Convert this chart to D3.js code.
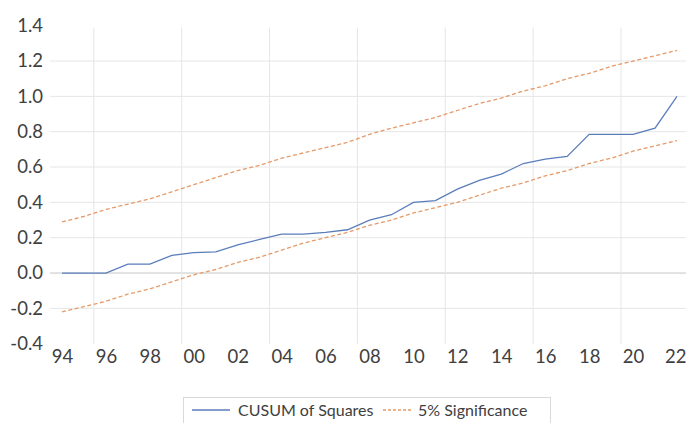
<!DOCTYPE html>
<html>
<head>
<meta charset="utf-8">
<script src="https://cdn.jsdelivr.net/npm/d3@7"></script>
<style>
  body { margin: 0; background: #fff; }
  svg { display: block; font-family: Lato, "Open Sans", sans-serif; }
</style>
</head>
<body>
<svg id="chart" width="686" height="423"></svg>
<script>
// annual observations 1994 - 2022
const years = d3.range(1994, 2023);
const cusum = [0, 0, 0, 0.05, 0.05, 0.10, 0.115, 0.12, 0.16, 0.19,
  0.22, 0.22, 0.23, 0.245, 0.30, 0.33, 0.40, 0.41, 0.475, 0.525,
  0.56, 0.62, 0.645, 0.66, 0.785, 0.785, 0.785, 0.82, 1.0];
const upper = [0.29, 0.32, 0.36, 0.39, 0.42, 0.46, 0.50, 0.54, 0.58, 0.61,
  0.65, 0.68, 0.71, 0.74, 0.785, 0.82, 0.85, 0.88, 0.92, 0.96,
  0.99, 1.03, 1.06, 1.10, 1.13, 1.17, 1.20, 1.23, 1.26];
const lower = [-0.22, -0.19, -0.16, -0.12, -0.09, -0.05, -0.01, 0.02, 0.06, 0.09,
  0.13, 0.17, 0.20, 0.23, 0.27, 0.30, 0.34, 0.37, 0.40, 0.44,
  0.48, 0.51, 0.55, 0.58, 0.62, 0.65, 0.69, 0.72, 0.75];
const xTicks = d3.range(1994, 2023, 2);
const xGrid = [1995.45, 1999.45, 2003.45, 2007.45, 2011.45, 2015.45, 2019.45];
const yTicks = [-0.4, -0.2, 0, 0.2, 0.4, 0.6, 0.8, 1.0, 1.2, 1.4];
const seriesNames = ["CUSUM of Squares", "5% Significance"];

const svg = d3.select("#chart");
const plotLeft = 50, plotRight = 686;

const x = d3.scaleLinear().domain([1994, 2022]).range([62, 677]);
const y = d3.scaleLinear().domain([-0.4, 1.4]).range([343.7, 25.7]);

// horizontal grid (no line at the top and bottom values)
svg.append("g")
  .selectAll("line")
  .data(yTicks.filter((d) => d > -0.4 && d < 1.4))
  .enter()
  .append("line")
  .attr("x1", plotLeft)
  .attr("x2", plotRight)
  .attr("y1", (d) => y(d))
  .attr("y2", (d) => y(d))
  .attr("stroke", (d) => (d === 0 ? "#c6c6c6" : "#e6e6e6"))
  .attr("stroke-width", 1);

// vertical grid
svg.append("g")
  .selectAll("line")
  .data(xGrid)
  .enter()
  .append("line")
  .attr("x1", (d) => x(d))
  .attr("x2", (d) => x(d))
  .attr("y1", y(1.39))
  .attr("y2", y(-0.4))
  .attr("stroke", "#e6e6e6")
  .attr("stroke-width", 1);

// y axis labels (plain hyphen for negatives, like the original)
const fmt = d3.format(".1f");
const yAxis = d3.axisLeft(y).tickValues(yTicks).tickSize(0).tickPadding(0)
  .tickFormat((d) => fmt(d).replace("\u2212", "-"));
svg.append("g")
  .attr("transform", "translate(43,0)")
  .call(yAxis)
  .call((g) => g.select(".domain").remove())
  .selectAll("text")
  .attr("fill", "#404040")
  .style("font-size", "18.5px")
  .style("font-family", "Lato, sans-serif");

// x axis labels
const xAxis = d3.axisBottom(x).tickValues(xTicks).tickSize(0).tickPadding(0)
  .tickFormat((d) => String(d % 100).padStart(2, "0"));
svg.append("g")
  .attr("transform", "translate(0,350)")
  .call(xAxis)
  .call((g) => g.select(".domain").remove())
  .selectAll("text")
  .attr("fill", "#404040")
  .style("font-size", "18.5px")
  .style("font-family", "Lato, sans-serif")
  .attr("text-anchor", (d) => (d === 2022 ? "end" : "middle"))
  .attr("dx", (d) => (d === 2022 ? "9" : "0"));

const line = d3.line()
  .x((d, i) => x(years[i]))
  .y((d) => y(d));

[upper, lower].forEach((band) => {
  svg.append("path")
    .datum(band)
    .attr("d", line)
    .attr("fill", "none")
    .attr("stroke", "#e59a68")
    .attr("stroke-width", 1.3)
    .attr("stroke-dasharray", "4,2.5");
});

svg.append("path")
  .datum(cusum)
  .attr("d", line)
  .attr("fill", "none")
  .attr("stroke", "#5b7dbb")
  .attr("stroke-width", 1.3);

// legend
const legend = svg.append("g");
legend.append("rect")
  .attr("x", 183.5)
  .attr("y", 397.5)
  .attr("width", 367)
  .attr("height", 40)
  .attr("fill", "#fff")
  .attr("stroke", "#d9d9d9");

const items = [
  { name: seriesNames[0], color: "#5b7dbb", dash: null, x0: 192, x1: 230, tx: 238 },
  { name: seriesNames[1], color: "#e59a68", dash: "3,2", x0: 383, x1: 412, tx: 418 },
];
items.forEach((it) => {
  legend.append("line")
    .attr("x1", it.x0)
    .attr("x2", it.x1)
    .attr("y1", 410)
    .attr("y2", 410)
    .attr("stroke", it.color)
    .attr("stroke-width", 1.3)
    .attr("stroke-dasharray", it.dash);
  legend.append("text")
    .attr("x", it.tx)
    .attr("y", 410)
    .attr("dy", "0.35em")
    .attr("fill", "#404040")
    .style("font-size", "16px")
    .text(it.name);
});
</script>
</body>
</html>
